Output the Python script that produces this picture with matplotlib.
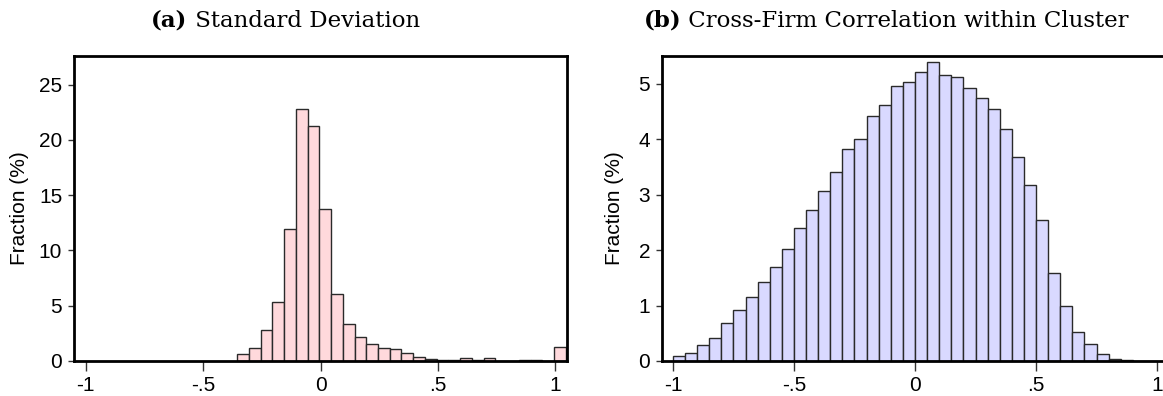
import numpy as np
import matplotlib
matplotlib.use("Agg")
import matplotlib.pyplot as plt

# histogram (a): standard deviation, bins of .05 starting at -.355
sd_start = -0.355
sd_width = 0.05
sd_fraction = [0.6, 1.15, 2.84, 5.38, 11.96, 22.8, 21.24, 13.75, 6.07, 3.32,
               2.2, 1.51, 1.15, 1.1, 0.7, 0.33, 0.15, 0.13, 0.12, 0.27,
               0.08, 0.27, 0.02, 0.02, 0.05, 0.05, 0.03, 1.24]

# histogram (b): cross-firm correlation, bins of .05 starting at -1
corr_start = -1.0
corr_width = 0.05
corr_fraction = [0.09, 0.15, 0.29, 0.42, 0.69, 0.92, 1.15, 1.43, 1.69, 2.02,
                 2.40, 2.72, 3.06, 3.40, 3.82, 4.01, 4.42, 4.61, 4.96, 5.04,
                 5.22, 5.40, 5.16, 5.13, 4.92, 4.75, 4.54, 4.19, 3.68, 3.17,
                 2.54, 1.58, 1.00, 0.52, 0.31, 0.13, 0.03, 0.01, 0.0, 0.0]

xticks = [-1, -0.5, 0, 0.5, 1]
xticklabels = ["-1", "-.5", "0", ".5", "1"]
sd_yticks = [0, 5, 10, 15, 20, 25]
corr_yticks = [0, 1, 2, 3, 4, 5]

W, H = 1163, 396
fig = plt.figure(figsize=(W / 100, H / 100), dpi=100)

tick_font = "Liberation Sans"
title_font = "DejaVu Serif"


def draw_hist(ax, start, width, heights, color, yticks, ylim, xlim, label_x):
    lefts = start + width * np.arange(len(heights))
    ax.bar(lefts, heights, width=width, align="edge", color=color,
           edgecolor="#2a2a2a", linewidth=1.0, zorder=2)
    ax.set_xlim(*xlim)
    ax.set_ylim(*ylim)
    ax.set_xticks(xticks)
    ax.set_xticklabels(xticklabels, fontfamily=tick_font, fontsize=15)
    ax.set_yticks(yticks)
    ax.set_yticklabels([str(t) for t in yticks], fontfamily=tick_font, fontsize=15)
    ax.tick_params(axis="x", length=7, width=1.0, color="#333333", pad=4)
    ax.tick_params(axis="y", length=4.5, width=1.0, color="#333333", pad=4)
    for s in ax.spines.values():
        s.set_linewidth(2.0)
        s.set_color("black")
        s.set_zorder(3)
    ax.set_ylabel("Fraction (%)", fontfamily=tick_font, fontsize=15)
    ax.yaxis.set_label_coords(label_x, 0.5)


ax1 = fig.add_axes([74 / W, 1 - 361 / H, 493 / W, 305 / H])
draw_hist(ax1, sd_start, sd_width, sd_fraction, "#ffd9dc", sd_yticks,
          (0, 27.6), (-1.05, 1.05), -0.092)

ax2 = fig.add_axes([662 / W, 1 - 361 / H, 506 / W, 305 / H])
draw_hist(ax2, corr_start, corr_width, corr_fraction, "#d9d9ff", corr_yticks,
          (0, 5.5), (-1.045, 1.045), -0.076)


def panel_title(xc, yc, tag, text, size):
    # bold tag followed by regular text, centred as one line
    r = fig.canvas.get_renderer()
    t1 = fig.text(0, yc, tag, fontfamily=title_font, fontweight="bold",
                  fontsize=size, va="center", ha="left")
    t2 = fig.text(0, yc, " " + text, fontfamily=title_font,
                  fontsize=size, va="center", ha="left")
    w1 = t1.get_window_extent(r).width / W
    w2 = t2.get_window_extent(r).width / W
    x0 = xc - (w1 + w2) / 2
    t1.set_x(x0)
    t2.set_x(x0 + w1)


panel_title(285.5 / W, 1 - 21 / H, "(a)", "Standard Deviation", 16.5)
panel_title(886 / W, 1 - 21 / H, "(b)", "Cross-Firm Correlation within Cluster", 16.5)

fig.savefig("out.png", dpi=100)
